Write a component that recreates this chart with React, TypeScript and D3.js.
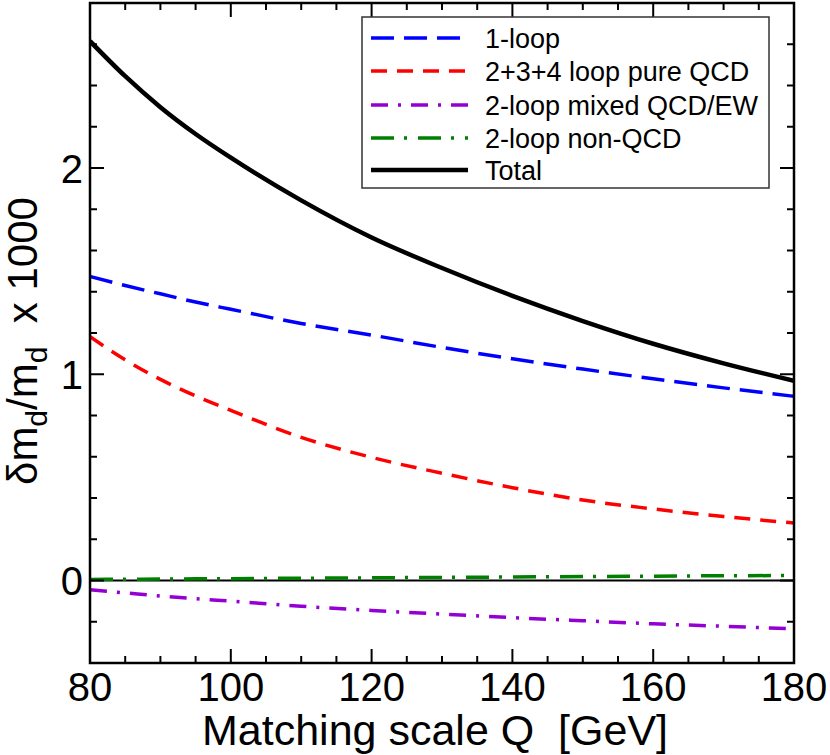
import React from "react";
import * as d3 from "d3";

const Q = [80, 85, 90, 95, 100, 110, 120, 130, 140, 150, 160, 170, 180];
const oneLoop = [1.474, 1.43, 1.39, 1.35, 1.315, 1.246, 1.19, 1.13, 1.075, 1.025, 0.978, 0.934, 0.893];
const pureQCD = [1.182, 1.07, 0.975, 0.895, 0.825, 0.694, 0.597, 0.52, 0.45, 0.39, 0.347, 0.31, 0.279];
const mixedQCDEW = [-0.045, -0.06, -0.075, -0.088, -0.1, -0.125, -0.145, -0.163, -0.18, -0.195, -0.21, -0.222, -0.234];
const nonQCD = [0.005, 0.006, 0.007, 0.008, 0.009, 0.011, 0.013, 0.015, 0.017, 0.019, 0.021, 0.023, 0.024];
const total = [2.615, 2.445, 2.295, 2.165, 2.05, 1.843, 1.663, 1.515, 1.38, 1.258, 1.148, 1.053, 0.968];

const xTicks = [80, 100, 120, 140, 160, 180];
const yTicks = [0, 1, 2];
const legendLabels = ["1-loop", "2+3+4 loop pure QCD", "2-loop mixed QCD/EW", "2-loop non-QCD", "Total"];

const W = 830, H = 755;
const L = 90, R = 794, T = 3, B = 663;
const FONT = "'Liberation Sans', Arial, Helvetica, sans-serif";

export default function App() {
  const x = d3.scaleLinear().domain([80, 180]).range([L, R]);
  const y = d3.scaleLinear().domain([-0.4, 2.8]).range([B, T]);

  const series = [
    { vals: oneLoop, color: "#0000ff", width: 3.5, dash: "23,10" },
    { vals: pureQCD, color: "#ff0000", width: 3.5, dash: "16,10" },
    { vals: mixedQCDEW, color: "#9400d3", width: 3.5, dash: "17,10,3,10" },
    { vals: nonQCD, color: "#008000", width: 3.5, dash: "23,10,3,11" },
    { vals: total, color: "#000000", width: 4.5, dash: "none" },
  ];

  const line = (vals: number[]) =>
    d3
      .line<number>()
      .x((_, i) => x(Q[i]))
      .y((v) => y(v))
      .curve(d3.curveMonotoneX)(vals) || "";

  const xMinor = d3.range(80, 180.01, 5);
  const yMinor = d3.range(-0.4, 2.801, 0.2);

  const legX0 = 371, legX1 = 468, legTextX = 485;
  const legY = [38, 71, 105, 138, 170];

  return (
    <svg width={W} height={H} style={{ position: "absolute", left: 0, top: 0, background: "#fff" }} fontFamily={FONT}>
      <defs>
        <clipPath id="plotclip">
          <rect x={L} y={T} width={R - L} height={B - T} />
        </clipPath>
      </defs>
      <rect x={0} y={0} width={W} height={H} fill="#fff" />

      {/* zero line */}
      <line x1={L} x2={R} y1={y(0)} y2={y(0)} stroke="#000" strokeWidth={2} />

      {/* series */}
      <g clipPath="url(#plotclip)">
        {series.map((s, i) => (
          <path
            key={i}
            d={line(s.vals)}
            fill="none"
            stroke={s.color}
            strokeWidth={s.width}
            strokeDasharray={s.dash}
          />
        ))}
      </g>

      {/* ticks */}
      {xMinor.map((v, i) => {
        const major = xTicks.includes(Math.round(v));
        const len = major ? 14 : 7;
        return (
          <g key={"xm" + i}>
            <line x1={x(v)} x2={x(v)} y1={B} y2={B - len} stroke="#000" strokeWidth={2} />
            <line x1={x(v)} x2={x(v)} y1={T} y2={T + len} stroke="#000" strokeWidth={2} />
          </g>
        );
      })}
      {yMinor.map((v, i) => {
        const major = Math.abs(v - Math.round(v)) < 1e-6;
        const len = major ? 14 : 7;
        return (
          <g key={"ym" + i}>
            <line x1={L} x2={L + len} y1={y(v)} y2={y(v)} stroke="#000" strokeWidth={2} />
            <line x1={R} x2={R - len} y1={y(v)} y2={y(v)} stroke="#000" strokeWidth={2} />
          </g>
        );
      })}

      {/* frame */}
      <rect x={L} y={T} width={R - L} height={B - T} fill="none" stroke="#000" strokeWidth={2.5} />

      {/* tick labels */}
      {xTicks.map((v) => (
        <text key={"xl" + v} x={x(v)} y={701} fontSize={40} textAnchor="middle" fill="#000">
          {v}
        </text>
      ))}
      {yTicks.map((v) => (
        <text key={"yl" + v} x={83} y={y(v) + 14.5} fontSize={40} textAnchor="end" fill="#000">
          {v}
        </text>
      ))}

      {/* axis titles */}
      <text x={(L + R) / 2 - 7} y={745} fontSize={43} textAnchor="middle" fill="#000" style={{ whiteSpace: "pre" }}>
        {"Matching scale Q  [GeV]"}
      </text>
      <text transform="translate(37,485) rotate(-90)" fontSize={42} fill="#000" style={{ whiteSpace: "pre" }}>
        <tspan>δm</tspan>
        <tspan fontSize={30} dy={10}>d</tspan>
        <tspan dy={-10}>/m</tspan>
        <tspan fontSize={30} dy={10}>d</tspan>
        <tspan dy={-10}>{"  x 1000"}</tspan>
      </text>

      {/* legend */}
      <rect x={362} y={17} width={407} height={171} fill="#fff" stroke="#333" strokeWidth={1.5} />
      {series.map((s, i) => (
        <g key={"lg" + i}>
          <line
            x1={legX0}
            x2={legX1}
            y1={legY[i]}
            y2={legY[i]}
            stroke={s.color}
            strokeWidth={s.width}
            strokeDasharray={s.dash}
          />
          <text x={legTextX} y={legY[i] + 9.5} fontSize={27} fill="#000">
            {legendLabels[i]}
          </text>
        </g>
      ))}
    </svg>
  );
}
